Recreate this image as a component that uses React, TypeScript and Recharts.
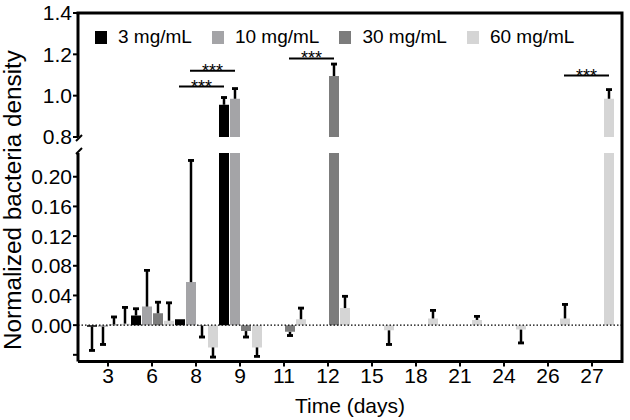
import React from "react";
import {
  BarChart,
  Bar,
  XAxis,
  YAxis,
  ErrorBar,
  ReferenceLine,
  LabelList,
} from "recharts";

const days = ["3", "6", "8", "9", "11", "12", "15", "18", "21", "24", "26", "27"];
const seriesNames = ["3 mg/mL", "10 mg/mL", "30 mg/mL", "60 mg/mL"];
const seriesColors = ["#000000", "#a4a4a7", "#7c7c7c", "#d5d5d5"];

// mean values per dose
const mean3 = [-0.002, 0.013, 0.008, 0.956, 0, 0, 0, 0, 0, 0, 0, 0];
const mean10 = [-0.002, 0.025, 0.058, 0.985, 0, 0, 0, 0, 0, 0, 0, 0];
const mean30 = [0.001, 0.016, -0.001, -0.008, -0.009, 1.095, 0, 0, 0, 0, 0, 0];
const mean60 = [0.002, 0.006, -0.03, -0.03, 0.008, 0.023, -0.007, 0.009, 0.007, -0.006, 0.009, 0.985];

// one-sided error (sign = direction)
const err3 = [-0.032, 0.009, 0, 0.035, 0, 0, 0, 0, 0, 0, 0, 0];
const err10 = [-0.024, 0.049, 0.164, 0.049, 0, 0, 0, 0, 0, 0, 0, 0];
const err30 = [0.01, 0.015, -0.015, -0.008, -0.005, 0.058, 0, 0, 0, 0, 0, 0];
const err60 = [0.022, 0.024, -0.013, -0.012, 0.015, 0.016, -0.019, 0.011, 0.005, -0.018, 0.019, 0.044];

// significance bracket heights (*** vs previous time point)
const sig3 = [null, null, null, 1.044, null, null, null, null, null, null, null, null];
const sig10 = [null, null, null, 1.121, null, null, null, null, null, null, null, null];
const sig30 = [null, null, null, null, null, 1.18, null, null, null, null, null, null];
const sig60 = [null, null, null, null, null, null, null, null, null, null, null, 1.097];

const upperTicks = [0.8, 1.0, 1.2, 1.4];
const lowerTicks = [-0.04, 0, 0.04, 0.08, 0.12, 0.16, 0.2];

const means = [mean3, mean10, mean30, mean60];
const errs = [err3, err10, err30, err60];
const sigs = [sig3, sig10, sig30, sig60];

const rows = days.map((day, i) => {
  const row: Record<string, any> = { day };
  means.forEach((m, k) => {
    const e = errs[k][i];
    row["v" + k] = m[i];
    row["l" + k] = e ? [Math.max(0, -e), Math.max(0, e)] : null;
    row["c" + k] = e ? [-e, e] : null;
    row["s" + k] = sigs[k][i];
  });
  return row;
});

const font = "'Liberation Sans', Arial, sans-serif";
const axisLine = { stroke: "#000", strokeWidth: 3 };
const tickLine = { stroke: "#000", strokeWidth: 2 };
const tickStyle = { fill: "#000", fontSize: 21 };

const renderSig = (k: number) => (props: any) => {
  const { value, index } = props;
  if (value == null) return null;
  const vb = props.viewBox || props;
  const v = means[k][index];
  const px = vb.height / (v - upperTicks[0]);
  const yLine = vb.y - (value - v) * px;
  const x2 = vb.x + vb.width / 2;
  const x1 = x2 - (4 * vb.width + 5);
  return (
    <g>
      <line x1={x1} x2={x2} y1={yLine} y2={yLine} stroke="#000" strokeWidth={2} />
      <text x={(x1 + x2) / 2} y={yLine + 6} textAnchor="middle" fontSize={18} fill="#000">
        ***
      </text>
    </g>
  );
};

function series(withSig: boolean) {
  return seriesNames.map((name, k) => (
    <Bar
      key={name}
      dataKey={"v" + k}
      name={name}
      fill={seriesColors[k]}
      isAnimationActive={false}
    >
      <ErrorBar dataKey={"l" + k} width={0} stroke="#000" strokeWidth={2.5} isAnimationActive={false} />
      <ErrorBar dataKey={"c" + k} width={3} stroke="#000" strokeWidth={2.5} isAnimationActive={false} />
      {withSig && <LabelList dataKey={"s" + k} content={renderSig(k)} />}
    </Bar>
  ));
}

export default function App() {
  return (
    <div style={{ position: "absolute", left: 0, top: 0, width: 630, height: 420, fontFamily: font, background: "#fff" }}>
      <div style={{ position: "absolute", left: 0, top: 0 }}>
        <BarChart width={630} height={152} data={rows} margin={{ top: 13, right: 8, bottom: 15, left: 0 }} barCategoryGap={1} barGap={1}>
          <XAxis dataKey="day" hide padding={{ left: 8, right: 8 }} />
          <YAxis
            domain={[upperTicks[0], upperTicks[upperTicks.length - 1]]}
            ticks={upperTicks}
            interval={0}
            allowDataOverflow
            width={78}
            tickFormatter={(v: number) => v.toFixed(1)}
            tick={tickStyle}
            tickSize={5}
            tickMargin={1}
            tickLine={tickLine}
            axisLine={axisLine}
          />
          {series(true)}
        </BarChart>
      </div>
      <div style={{ position: "absolute", left: 0, top: 140 }}>
        <BarChart width={630} height={280} data={rows} margin={{ top: 13, right: 8, bottom: 0, left: 0 }} barCategoryGap={1} barGap={1}>
          <XAxis
            dataKey="day"
            height={58.5}
            padding={{ left: 8, right: 8 }}
            interval={0}
            tick={tickStyle}
            tickSize={5}
            tickMargin={2}
            tickLine={tickLine}
            axisLine={axisLine}
            label={{ value: "Time (days)", position: "insideBottom", offset: 7, fill: "#000", fontSize: 21 }}
          />
          <YAxis
            domain={[-0.049, 0.232]}
            ticks={lowerTicks}
            interval={0}
            allowDataOverflow
            width={78}
            tickFormatter={(v: number) => (v < 0 ? "" : v.toFixed(2))}
            tick={tickStyle}
            tickSize={5}
            tickMargin={1}
            tickLine={tickLine}
            axisLine={axisLine}
          />
          <ReferenceLine y={0} stroke="#000" strokeWidth={1.3} strokeDasharray="1.5 2" />
          {series(false)}
        </BarChart>
      </div>
      <svg width={630} height={420} style={{ position: "absolute", left: 0, top: 0, pointerEvents: "none" }}>
        <text
          x={13}
          y={200}
          transform="rotate(-90 13 200)"
          textAnchor="middle"
          dominantBaseline="central"
          fontSize={23}
          textLength={300}
          lengthAdjust="spacingAndGlyphs"
          fill="#000"
          fontFamily={font}
        >
          Normalized bacteria density
        </text>
        <path d="M76.5 13 H622 V363" fill="none" stroke="#000" strokeWidth={3} />
        <line x1={76} x2={82} y1={141} y2={135} stroke="#000" strokeWidth={2} />
        <line x1={76} x2={82} y1={154} y2={148} stroke="#000" strokeWidth={2} />
      </svg>
      <div style={{ position: "absolute", left: 95, top: 26, display: "flex", alignItems: "center", fontSize: 19, color: "#000" }}>
        {seriesNames.map((name, k) => (
          <div key={name} style={{ display: "flex", alignItems: "center", marginRight: 20 }}>
            <span style={{ display: "inline-block", width: 12, height: 13, background: seriesColors[k], marginRight: 11 }} />
            <span>{name}</span>
          </div>
        ))}
      </div>
    </div>
  );
}
